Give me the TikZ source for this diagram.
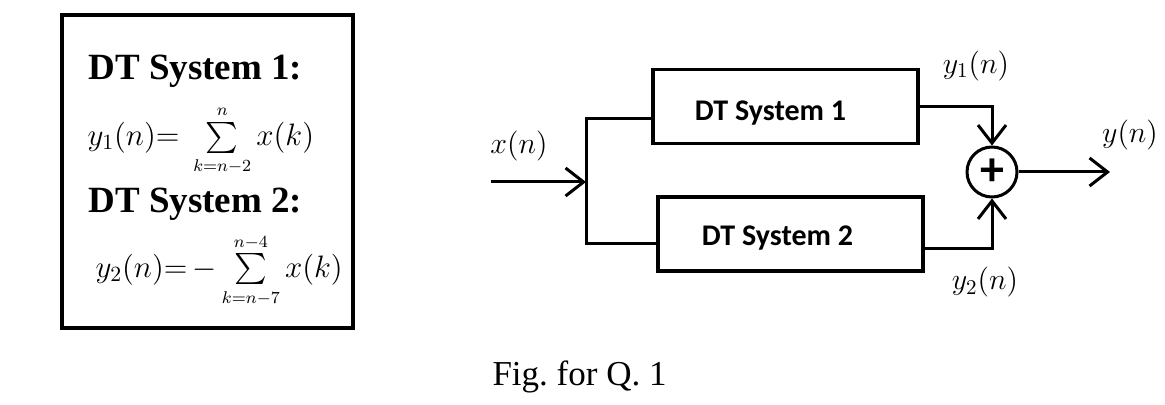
\RequirePackage{fix-cm}
\documentclass[tikz,border=0pt]{standalone}
\usepackage{amsmath,amssymb}
\usepackage{fontspec}
\setmainfont{Liberation Serif}
\newfontfamily\boxfont{Carlito}
\usepackage{tikz}
\usetikzlibrary{arrows.meta}
\frenchspacing
\newcommand{\sumlim}[1]{\mbox{\fontsize{8.5}{9}\selectfont$#1$}}

\begin{document}
\begin{tikzpicture}[x=0.5pt,y=-0.5pt,line width=1.5pt,
    sysbox/.style={draw,line width=1.6pt,minimum width=132.5pt,minimum height=37pt},
    boxtext/.style={inner sep=0pt,font=\boxfont\bfseries\fontsize{15}{17}\selectfont},
    lbl/.style={inner sep=0pt,font=\fontsize{15}{18}\selectfont},
    eqtext/.style={inner sep=0pt,anchor=west,font=\fontsize{15.5}{18}\selectfont},
    heading/.style={anchor=base west,inner sep=0pt,font=\bfseries\fontsize{18.5}{22}\selectfont},
    arr/.style={-{Straight Barb[length=9pt,width=14pt,line width=1.5pt]}}]
    \useasboundingbox (0,0) rectangle (1165,405);

    \node (eqbox) [draw,line width=1.6pt,minimum width=145.5pt,minimum height=156.5pt,inner sep=0pt]
      at (207.5,171.5) {};
    \node (head1) [heading] at (87,80) {DT System 1:};
    \node (eq1) [eqtext] at (86,141) {$y_1(n){=}\;\sum\limits_{\sumlim{k{=}n{-}2}}^{\sumlim{n}}x(k)$};
    \node (head2) [heading] at (87,213) {DT System 2:};
    \node (eq2) [eqtext] at (94,271) {$y_2(n){=}\,{-}\sum\limits_{\sumlim{k{=}n{-}7}}^{\sumlim{n{-}4}}x(k)$};

    \node (sys1) [sysbox,label={[boxtext,xshift=-7.5pt,yshift=-3.5pt]center:DT System 1}]
      at (785.5,106.5) {};
    \node (sys2) [sysbox,label={[boxtext,xshift=-6.5pt,yshift=-2pt]center:DT System 2}]
      at (790.5,234) {};
    \node (add) [circle,draw,minimum size=25pt,inner sep=0pt,
      font=\boxfont\bfseries\fontsize{24}{24}\selectfont] at (992,172) {+};

    \coordinate (in) at (491,182);
    \coordinate (split) at (586,182);
    \coordinate (top) at (586,119);
    \coordinate (bot) at (586,244);
    \coordinate (out) at (1110,172);

    \draw[arr] (in) -- (split);
    \draw (sys1.west |- top) -- (top) -- (bot) -- (sys2.west |- bot);
    \draw[arr] (sys1.east) -| (add.north);
    \draw[arr] ([yshift=-7.5pt]sys2.east) -| (add.south);
    \draw[arr] (add.east) -- (out);

    \node (xlbl) [lbl] at (519,146) {$x(n)$};
    \node (y1lbl) [lbl] at (976,66) {$y_1(n)$};
    \node (ylbl) [lbl] at (1130,135) {$y(n)$};
    \node (y2lbl) [lbl] at (985,282) {$y_2(n)$};

    \node (caption) [anchor=base west,inner sep=0pt,font=\fontsize{17.5}{20}\selectfont]
      at (491,385) {Fig. for Q. 1};
\end{tikzpicture}
\end{document}
